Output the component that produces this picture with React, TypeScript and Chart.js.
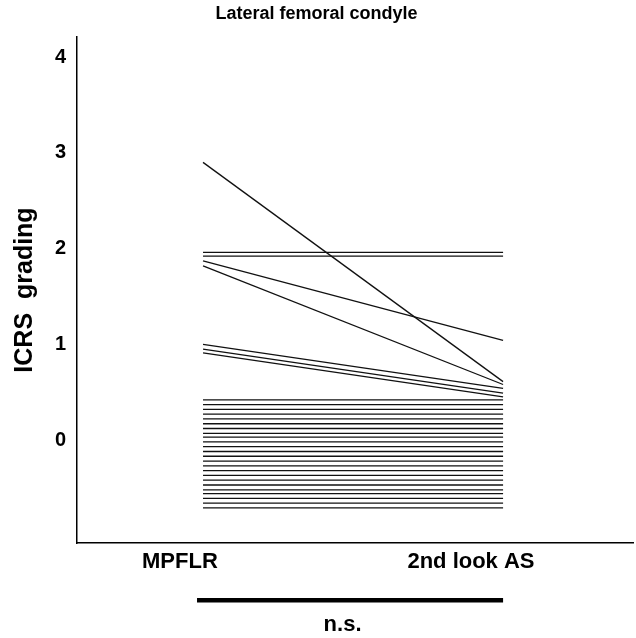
import React, { useEffect, useRef } from "react";
import { Chart, registerables } from "chart.js";

Chart.register(...registerables);

// ---- data ----
const categories = ["MPFLR", "2nd look AS"];
const yTicks = [0, 1, 2, 3, 4];
const chartTitle = "Lateral femoral condyle";
const yAxisTitle = "ICRS  grading";
const significanceLabel = "n.s.";

// grading per patient at MPFLR (as plotted, with visual offsets)
const mpflrValues = [
  2.9, 1.96, 1.92, 1.87, 1.82, 1.0, 0.95, 0.91,
  0.42, 0.37, 0.32, 0.27, 0.22, 0.17, 0.12, 0.07,
  0.03, -0.02, -0.07, -0.12, -0.17, -0.22, -0.27, -0.32,
  -0.37, -0.42, -0.47, -0.52, -0.56, -0.61, -0.66, -0.71,
];
// grading per patient at 2nd look arthroscopy
const secondLookValues = [
  0.61, 1.96, 1.92, 1.04, 0.58, 0.54, 0.49, 0.45,
  0.42, 0.37, 0.32, 0.27, 0.22, 0.17, 0.12, 0.07,
  0.03, -0.02, -0.07, -0.12, -0.17, -0.22, -0.27, -0.32,
  -0.37, -0.42, -0.47, -0.52, -0.56, -0.61, -0.66, -0.71,
];

const FONT = "'Liberation Sans', Arial, Helvetica, sans-serif";

export default function App() {
  const ref = useRef<HTMLCanvasElement | null>(null);

  useEffect(() => {
    if (!ref.current) return;

    const datasets = mpflrValues.map((v, i) => ({
      data: [
        { x: 0, y: v },
        { x: 1, y: secondLookValues[i] },
      ],
      borderColor: "#111",
      borderWidth: 1.3,
      pointRadius: 0,
      fill: false,
      tension: 0,
    }));

    const sigPlugin = {
      id: "sigBar",
      afterDraw(chart: any) {
        const ctx = chart.ctx;
        const xs = chart.scales.x;
        const x1 = xs.getPixelForValue(-0.02);
        const x2 = xs.getPixelForValue(1.0);
        ctx.save();
        ctx.fillStyle = "#000";
        ctx.fillRect(x1, 598, x2 - x1, 4.5);
        ctx.font = `bold 22px ${FONT}`;
        ctx.textAlign = "center";
        ctx.textBaseline = "middle";
        ctx.fillText(significanceLabel, xs.getPixelForValue(0.465), 625);
        ctx.restore();
      },
    };

    const chart = new Chart(ref.current, {
      type: "line",
      data: { datasets },
      plugins: [sigPlugin],
      options: {
        animation: false,
        responsive: false,
        devicePixelRatio: 1,
        events: [],
        layout: { padding: { left: 0, right: 3, top: 0, bottom: 0 } },
        plugins: {
          legend: { display: false },
          tooltip: { enabled: false },
          title: {
            display: true,
            text: chartTitle,
            color: "#000",
            font: { family: FONT, size: 18, weight: "bold" },
            padding: { top: 3, bottom: 12.4 },
          },
        },
        scales: {
          x: {
            type: "linear",
            min: -0.42,
            max: 1.433,
            afterBuildTicks: (s: any) => {
              s.ticks = [{ value: -0.077 }, { value: 0.893 }];
            },
            afterFit: (s: any) => {
              s.height = 95;
            },
            grid: { display: false, drawTicks: false },
            border: { display: true, color: "#000", width: 1.5 },
            ticks: {
              color: "#000",
              padding: 6,
              maxRotation: 0,
              autoSkip: false,
              font: { family: FONT, size: 22, weight: "bold" },
              callback: (_v: any, i: number) => categories[i],
            },
          },
          y: {
            type: "linear",
            min: -1.076,
            max: 4.21,
            afterBuildTicks: (s: any) => {
              s.ticks = yTicks.map((v) => ({ value: v }));
            },
            afterFit: (s: any) => {
              s.width = 77;
            },
            grid: { display: false, drawTicks: false },
            border: { display: true, color: "#000", width: 1.5 },
            ticks: {
              color: "#000",
              padding: 11,
              font: { family: FONT, size: 20, weight: "bold" },
            },
            title: {
              display: true,
              text: yAxisTitle,
              color: "#000",
              font: { family: FONT, size: 25, weight: "bold" },
              padding: { top: 10, bottom: 0 },
            },
          },
        },
      },
    });

    return () => chart.destroy();
  }, []);

  return (
    <div style={{ position: "absolute", left: 0, top: 0, width: 636, height: 638, background: "#fff" }}>
      <canvas ref={ref} width={636} height={638} style={{ display: "block" }} />
    </div>
  );
}
